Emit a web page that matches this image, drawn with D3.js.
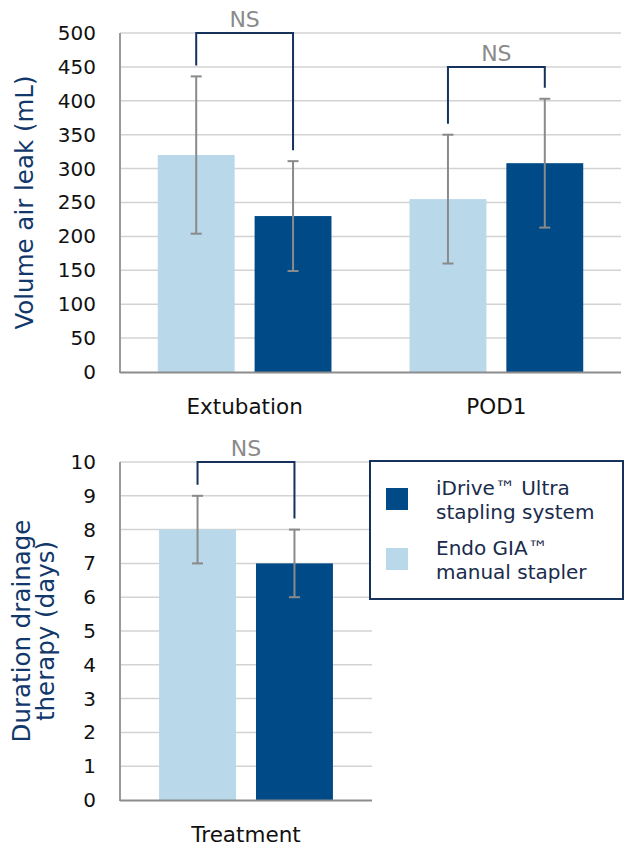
<!DOCTYPE html>
<html>
<head>
<meta charset="utf-8">
<script src="https://cdn.jsdelivr.net/npm/d3@7"></script>
<style>
  body { margin: 0; background: #fff; }
  svg { display: block; font-family: "DejaVu Sans", sans-serif; }
</style>
</head>
<body>
<svg id="chart" width="625" height="848"></svg>
<script>
// values
var seriesNames = ["Endo GIA™ manual stapler", "iDrive™ Ultra stapling system"];
var seriesColors = ["#b9d8ea", "#004b87"];

var airCategories = ["Extubation", "POD1"];
var endoAir = [320, 255];
var endoAirErr = [116, 95];
var idriveAir = [230, 308];
var idriveAirErr = [81, 95];
var airTicks = [0, 50, 100, 150, 200, 250, 300, 350, 400, 450, 500];
var airBrackets = [500, 450];

var drainCategories = ["Treatment"];
var endoDrain = [8];
var endoDrainErr = [1];
var idriveDrain = [7];
var idriveDrainErr = [1];
var drainTicks = [0, 1, 2, 3, 4, 5, 6, 7, 8, 9, 10];
var drainBrackets = [10];

var bracketLabel = "NS";

var navy = "#16325c";
var svg = d3.select("#chart");

function panel(opt) {
    var g = svg.append("g");
    var x = d3.scaleBand().domain(opt.categories).range([opt.left, opt.right])
        .paddingInner(0.31).paddingOuter(0.15);
    var xs = d3.scaleBand().domain([0, 1]).range([0, x.bandwidth()]).paddingInner(0.206);
    var y = d3.scaleLinear().domain([0, opt.max]).range([opt.bottom, opt.top]);

    // gridlines
    g.append("g").selectAll("line").data(opt.ticks.filter(function(d) { return d > 0; }))
        .join("line")
        .attr("x1", opt.left).attr("x2", opt.right)
        .attr("y1", function(d) { return y(d); }).attr("y2", function(d) { return y(d); })
        .attr("stroke", "#d3d3d3").attr("stroke-width", 1.5);

    // y tick labels
    var yAxis = g.append("g").attr("transform", "translate(" + opt.left + ",0)")
        .call(d3.axisLeft(y).tickValues(opt.ticks).tickSize(0).tickPadding(24));
    yAxis.select(".domain").remove();
    yAxis.selectAll("text").attr("font-size", 20).attr("fill", "#111")
        .attr("font-family", "DejaVu Sans");

    // rows: one per category, two bars each
    var rows = opt.categories.map(function(c, i) {
        return [
            { cat: c, s: 0, v: opt.a[i], e: opt.aErr[i] },
            { cat: c, s: 1, v: opt.b[i], e: opt.bErr[i] }
        ];
    });
    var flat = [].concat.apply([], rows);

    g.append("g").selectAll("rect").data(flat).join("rect")
        .attr("x", function(d) { return x(d.cat) + xs(d.s); })
        .attr("width", xs.bandwidth())
        .attr("y", function(d) { return y(d.v); })
        .attr("height", function(d) { return y(0) - y(d.v); })
        .attr("fill", function(d) { return seriesColors[d.s]; });

    // error bars
    var eb = g.append("g").attr("stroke", "#8a8a8a").attr("stroke-width", 2);
    var cx = function(d) { return x(d.cat) + xs(d.s) + xs.bandwidth() / 2; };
    eb.selectAll("line.v").data(flat).join("line").attr("class", "v")
        .attr("x1", cx).attr("x2", cx)
        .attr("y1", function(d) { return y(d.v + d.e); })
        .attr("y2", function(d) { return y(d.v - d.e); });
    [1, -1].forEach(function(sign) {
        eb.selectAll("line.c" + sign).data(flat).join("line").attr("class", "c" + sign)
            .attr("x1", function(d) { return cx(d) - 5.5; })
            .attr("x2", function(d) { return cx(d) + 5.5; })
            .attr("y1", function(d) { return y(d.v + sign * d.e); })
            .attr("y2", function(d) { return y(d.v + sign * d.e); });
    });

    // axes lines
    g.append("line").attr("x1", opt.left).attr("x2", opt.left)
        .attr("y1", opt.top).attr("y2", opt.bottom + 1)
        .attr("stroke", "#9a9a9a").attr("stroke-width", 2);
    g.append("line").attr("x1", opt.left).attr("x2", opt.right)
        .attr("y1", opt.bottom + 0.5).attr("y2", opt.bottom + 0.5)
        .attr("stroke", "#8c8c8c").attr("stroke-width", 2);

    // category labels
    g.append("g").selectAll("text").data(opt.categories).join("text")
        .attr("x", function(d) { return x(d) + x.bandwidth() / 2; })
        .attr("y", opt.bottom + 42)
        .attr("text-anchor", "middle").attr("font-size", 21.5).attr("fill", "#111")
        .text(function(d) { return d; });

    // NS brackets
    rows.forEach(function(r, i) {
        var lvl = y(opt.brackets[i]);
        var x0 = cx(r[0]), x1 = cx(r[1]);
        var l0 = y(r[0].v + r[0].e) - 11, l1 = y(r[1].v + r[1].e) - 11;
        g.append("path")
            .attr("d", "M" + x0 + "," + l0 + "V" + lvl + "H" + x1 + "V" + l1)
            .attr("fill", "none").attr("stroke", navy).attr("stroke-width", 2);
        g.append("text").attr("x", (x0 + x1) / 2).attr("y", lvl - 6)
            .attr("text-anchor", "middle").attr("font-size", 22).attr("fill", "#8a8a8a")
            .text(bracketLabel);
    });

    // y title, one text per line
    opt.title.forEach(function(line, i) {
        g.append("text").attr("text-anchor", "middle").attr("font-size", 24.5)
            .attr("fill", "#12386b")
            .attr("transform", "translate(" + opt.titleX[i] + "," + (opt.top + opt.bottom) / 2 + ") rotate(-90)")
            .text(line);
    });
    return { x: x, y: y };
}

panel({
    categories: airCategories, a: endoAir, aErr: endoAirErr, b: idriveAir, bErr: idriveAirErr,
    max: 500, ticks: airTicks, brackets: airBrackets,
    left: 120, right: 621, top: 33, bottom: 372,
    title: ["Volume air leak (mL)"], titleX: [33]
});

panel({
    categories: drainCategories, a: endoDrain, aErr: endoDrainErr, b: idriveDrain, bErr: idriveDrainErr,
    max: 10, ticks: drainTicks, brackets: drainBrackets,
    left: 120, right: 372, top: 462, bottom: 800,
    title: ["Duration drainage", "therapy (days)"], titleX: [30, 54]
});

// legend
var legend = svg.append("g");
legend.append("rect").attr("x", 370).attr("y", 461).attr("width", 253).attr("height", 138)
    .attr("fill", "#fff").attr("stroke", navy).attr("stroke-width", 2);
var legendItems = [
    { s: 1, lines: ["iDrive™ Ultra", "stapling system"], sy: 488, ty: 495 },
    { s: 0, lines: ["Endo GIA™", "manual stapler"], sy: 548, ty: 555 }
];
legendItems.forEach(function(it) {
    legend.append("rect").attr("x", 386).attr("y", it.sy).attr("width", 22).attr("height", 22)
        .attr("fill", seriesColors[it.s]);
    it.lines.forEach(function(l, i) {
        legend.append("text").attr("x", 436).attr("y", it.ty + i * 23.5)
            .attr("font-size", 20).attr("fill", "#1a2b4c").text(l);
    });
});
</script>
</body>
</html>
